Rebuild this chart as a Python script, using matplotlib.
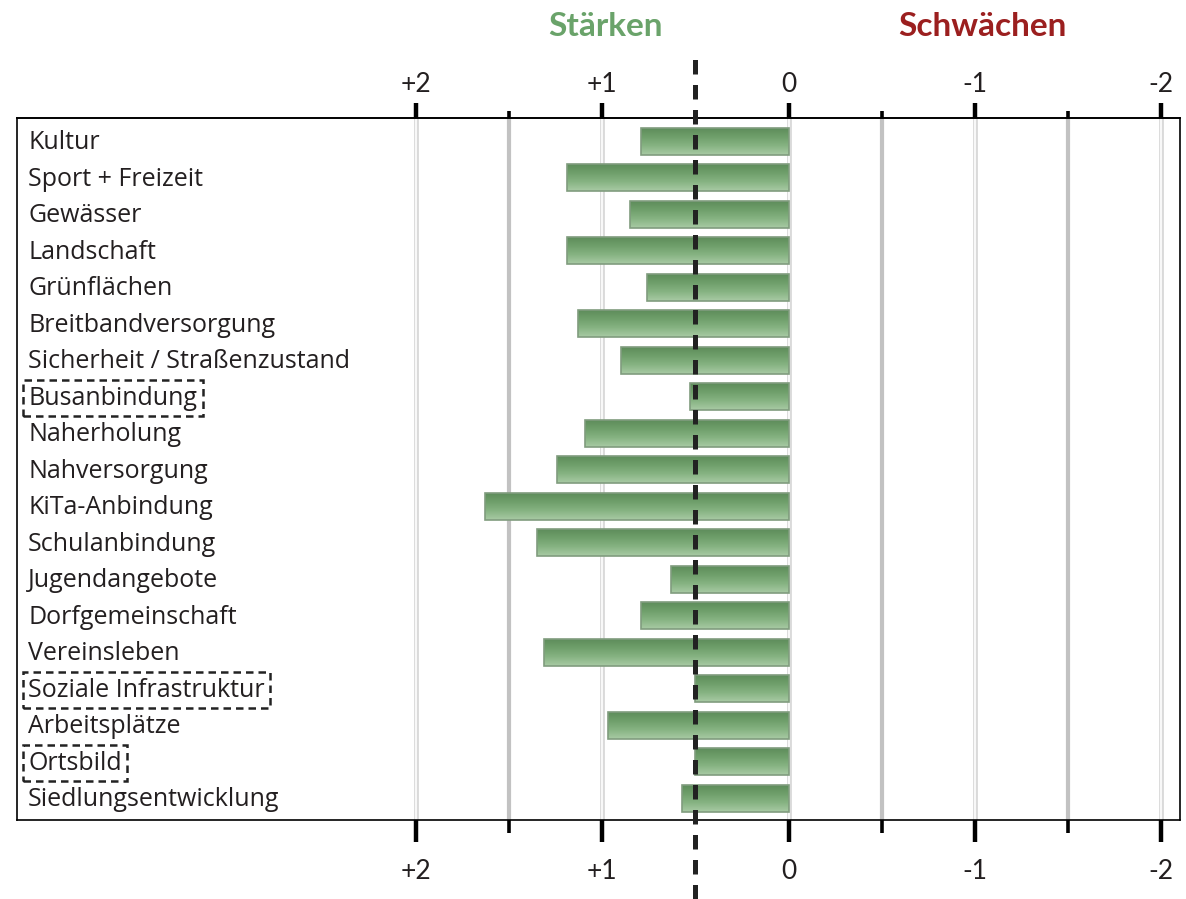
import numpy as np
import matplotlib.pyplot as plt
from matplotlib.colors import LinearSegmentedColormap
from matplotlib.ticker import FixedLocator

# kategorien (von oben nach unten)
themen = ['Kultur', 'Sport + Freizeit', 'Gewässer', 'Landschaft', 'Grünflächen',
          'Breitbandversorgung', 'Sicherheit / Straßenzustand', 'Busanbindung',
          'Naherholung', 'Nahversorgung', 'KiTa-Anbindung', 'Schulanbindung',
          'Jugendangebote', 'Dorfgemeinschaft', 'Vereinsleben',
          'Soziale Infrastruktur', 'Arbeitsplätze', 'Ortsbild', 'Siedlungsentwicklung']
# bewertung (positiv = staerke)
werte = [0.79, 1.19, 0.85, 1.19, 0.76, 1.13, 0.90, 0.53, 1.09, 1.24, 1.63, 1.35,
         0.63, 0.79, 1.31, 0.50, 0.97, 0.50, 0.57]
# markierte themen (gestrichelter rahmen)
markiert = ['Busanbindung', 'Soziale Infrastruktur', 'Ortsbild']

haupt_ticks = [2, 1, 0, -1, -2]
tick_texte = ['+2', '+1', '0', '-1', '-2']
halb_ticks = [1.5, -0.5, -1.5]
mitte = 0.5

fig = plt.figure(figsize=(11.86, 8.99), dpi=100)
ax = fig.add_axes([0.01433, 0.0879, 0.98061, 0.7808])

y = np.arange(len(themen))
h = 0.74

# gitterlinien
for t in haupt_ticks:
    ax.axvline(t, color='#dadada', lw=3.5, zorder=0)
    ax.axvline(t, color='white', lw=1.2, zorder=0)
for t in halb_ticks:
    ax.axvline(t, color='#c2c2c2', lw=3, zorder=0)

# balken
bars = ax.barh(y, werte, height=h, color='none', edgecolor='#809c7e', lw=1.2, zorder=3)
cmap = LinearSegmentedColormap.from_list('gruen', ['#5c8b59', '#6e9e6a', '#86b382', '#a8caa4'])
grad = np.linspace(0, 1, 100).reshape(-1, 1)
for i, b in enumerate(bars):
    im = ax.imshow(grad, cmap=cmap, aspect='auto', origin='upper', zorder=2,
                   extent=(0, werte[i], i + h / 2, i - h / 2), interpolation='bilinear')
    im.set_clip_path(b)

ax.set_xlim(4.14, -2.10)
ax.set_ylim(len(themen) - 0.4, -0.63)

# gestrichelte mittellinie
ax.axvline(mitte, ymin=-0.113, ymax=1.09, clip_on=False, color='#222222', lw=3.6,
           dashes=(2.9, 2.1), zorder=5)

# achse unten
ax.xaxis.set_major_locator(FixedLocator(haupt_ticks))
ax.set_xticklabels(tick_texte)
ax.xaxis.set_minor_locator(FixedLocator(halb_ticks))
ax.tick_params(axis='x', which='major', direction='out', length=16, width=3.2,
               color='black', pad=12, labelsize=19, labelcolor='#231f20')
ax.tick_params(axis='x', which='minor', direction='out', length=9.5, width=2.6, color='black')
for lab in ax.get_xticklabels():
    lab.set_family('Lato')
ax.set_yticks([])

# achse oben
ax2 = ax.secondary_xaxis('top', functions=(lambda v: v, lambda v: v))
ax2.xaxis.set_major_locator(FixedLocator(haupt_ticks))
ax2.set_xticklabels(tick_texte)
ax2.xaxis.set_minor_locator(FixedLocator(halb_ticks))
ax2.tick_params(axis='x', which='major', direction='out', length=11, width=3.2,
                color='black', pad=4, labelsize=19, labelcolor='#231f20')
ax2.tick_params(axis='x', which='minor', direction='out', length=5, width=2.6, color='black')
for lab in ax2.get_xticklabels():
    lab.set_family('Lato')
ax2.spines['top'].set_linewidth(1.2)

for s in ax.spines.values():
    s.set_linewidth(1.2)
    s.set_color('black')

# kategorie-namen im diagramm
for i, t in enumerate(themen):
    kw = {}
    if t in markiert:
        kw['bbox'] = dict(boxstyle='square,pad=0.22', fc='none', ec='#222222', lw=1.8, ls=(0, (3, 2)))
    ax.text(0.0095, i + 0.05, t, transform=ax.get_yaxis_transform(), ha='left', va='center',
            fontsize=18, family='Open Sans', color='#231f20', zorder=6, **kw)

# ueberschriften
fig.text(605 / 1186, 1 - 27 / 899, 'Stärken', ha='center', va='center', fontsize=24,
         fontweight='bold', family='Lato', color='#6aa36a')
fig.text(982 / 1186, 1 - 27 / 899, 'Schwächen', ha='center', va='center', fontsize=24,
         fontweight='bold', family='Lato', color='#9b1f1f')

plt.savefig('out.png', dpi=100)
plt.close()
